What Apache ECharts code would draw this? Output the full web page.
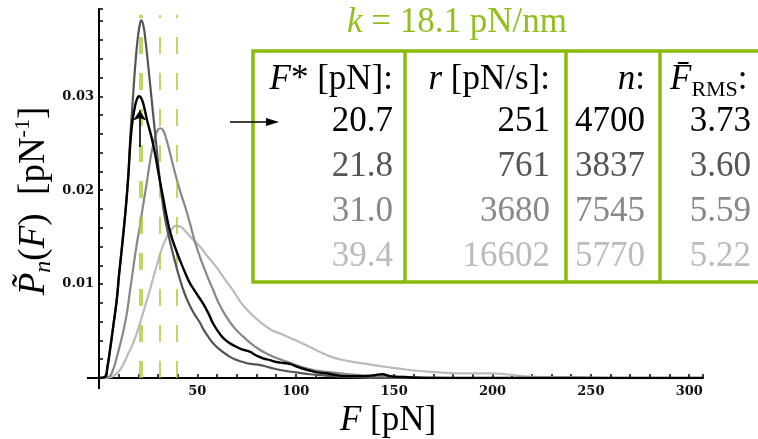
<!DOCTYPE html>
<html>
<head>
<meta charset="utf-8">
<script src="https://cdn.jsdelivr.net/npm/echarts@6/dist/echarts.min.js"></script>
<style>
html, body { margin: 0; padding: 0; background: #fff; }
#chart { width: 758px; height: 439px; }
</style>
</head>
<body>
<div id="chart"></div>
<script>
// 分布曲线 [F (pN), P]
var curveA = [[0,0],[3,0.0001],[4.3,0.0012],[5.6,0.003],[7.3,0.0056],[9,0.0083],[10.2,0.011],[11.5,0.0136],[12.8,0.0163],[14,0.019],[15,0.0218],[15.7,0.0243],[16.8,0.027],[18,0.0286],[19.3,0.0297],[20.5,0.030],[21.7,0.0297],[23,0.0288],[24.5,0.0274],[26.5,0.0258],[28.4,0.0240],[30.5,0.0215],[32.5,0.0193],[34.4,0.0172],[36.5,0.0153],[39.4,0.0135],[42,0.0121],[44,0.0111],[46.2,0.0101],[48,0.0095],[50.8,0.0086],[53,0.0079],[55.8,0.0068],[58,0.0058],[61.4,0.0047],[64.5,0.004],[68.2,0.0035],[72,0.0031],[76.6,0.0028],[80,0.0024],[83.4,0.0021],[87,0.0019],[90.2,0.0017],[94,0.0016],[97,0.0015],[102,0.0011],[107,0.0008],[111,0.0006],[115.5,0.0005],[121,0.0003],[127,0.0002],[135,0.0002],[140,0.0003],[144,0.0004],[148,0.0002],[155,0.0001],[165,0],[180,0],[220,0],[260,0],[307,0]];
var curveB = [[0,0],[3,0.0001],[4.3,0.0012],[5.6,0.003],[7.3,0.0056],[9,0.0083],[10.2,0.011],[11.5,0.0136],[12.8,0.0163],[14,0.0192],[15,0.022],[16,0.026],[17.4,0.0303],[18.5,0.0335],[19.7,0.0362],[20.7,0.0376],[21.5,0.0381],[22.5,0.0376],[23.5,0.0362],[25,0.0333],[26.7,0.0298],[28,0.0271],[29.3,0.0245],[30.5,0.0219],[31.8,0.0196],[33,0.0177],[34.5,0.016],[36,0.0146],[38.5,0.0125],[41,0.0106],[43.5,0.009],[46.2,0.0077],[48.5,0.0068],[51.3,0.0059],[53,0.0052],[55.5,0.0044],[58,0.0037],[61,0.0031],[64.8,0.0025],[69,0.002],[73.3,0.0017],[77,0.0015],[81.7,0.0014],[87,0.0011],[93.6,0.0008],[100,0.0006],[107,0.0004],[113,0.0003],[119,0.0002],[130,0.0001],[145,0],[180,0],[220,0],[260,0],[307,0]];
var curveC = [[0,0],[4.7,0.0001],[7,0.0008],[9,0.0022],[11.5,0.0042],[14,0.0067],[15.7,0.0092],[17.4,0.0117],[19,0.014],[20.8,0.0162],[22.5,0.0185],[24.2,0.0207],[25.5,0.0225],[26.7,0.024],[28.2,0.0254],[29.6,0.0263],[31,0.0266],[32.5,0.0264],[34,0.0256],[35.8,0.0242],[37.7,0.0226],[40,0.0208],[42,0.0194],[44,0.0181],[46.2,0.0165],[48.5,0.0147],[51.3,0.0129],[54,0.0114],[56.3,0.0102],[58,0.0094],[61,0.0079],[64.8,0.0065],[69,0.0053],[73.3,0.0044],[79,0.0034],[85.1,0.0026],[92,0.002],[98.6,0.0015],[104,0.0011],[110.5,0.0008],[118,0.0006],[127,0.0004],[140,0.0002],[160,0.0001],[180,0],[220,0],[260,0],[307,0]];
var curveD = [[0,0],[5,0.00005],[7.3,0.0002],[10,0.0007],[12,0.0013],[14,0.0022],[17.5,0.0038],[20.8,0.0058],[23.5,0.0077],[25.9,0.0094],[28,0.011],[30.1,0.0125],[32,0.0138],[34.4,0.015],[36.5,0.0157],[39,0.0162],[41.5,0.0161],[44,0.0156],[47,0.0149],[51.3,0.014],[55,0.013],[59.7,0.0118],[64,0.0105],[68.2,0.0093],[71.6,0.0082],[76,0.0071],[81.7,0.006],[87,0.0052],[93.6,0.0046],[99,0.0041],[105.4,0.0035],[112,0.0028],[118.9,0.0022],[127,0.0018],[135.9,0.0015],[145,0.0012],[152.8,0.001],[160,0.0008],[173,0.0006],[182,0.0005],[190,0.0005],[200,0.0005],[207,0.0004],[215,0.0002],[228,0.0001],[241,0.0001],[260,0],[280,0],[307,0]];

// 表格数据
var fStar = [20.7, 21.8, 31.0, 39.4];
var loadRate = [251, 761, 3680, 16602];
var nEvents = [4700, 3837, 7545, 5770];
var fRms = [3.73, 3.60, 5.59, 5.22];
var springK = 18.1;

// 刻度
var xLabelValues = [50, 100, 150, 200, 250, 300];
var yLabelValues = [0.01, 0.02, 0.03];
var arrowSpan = [0.0246, 0.0285];

var rowColors = ['#000', '#555', '#888', '#bbb'];
var green = '#8cba0a';
var dashGreen = '#a8cc36';
var serif = "'Liberation Serif', 'DejaVu Serif', serif";

var myChart = echarts.init(document.getElementById('chart'));

function txt(x, y, text, align, color, rich) {
	return {
		type: 'text', x: x, y: y, z: 10,
		style: {
			text: text, align: align, verticalAlign: 'middle',
			fill: color, fontFamily: serif, fontSize: 35, rich: rich || {}
		}
	};
}

var richBase = {
	i: { fontStyle: 'italic', fontFamily: serif, fontSize: 35, lineHeight: 42 },
	r: { fontFamily: serif, fontSize: 35, lineHeight: 42 },
	sub: { fontFamily: serif, fontSize: 22, lineHeight: 42, verticalAlign: 'bottom' }
};

// 表格
var tblGraphic = [
	{ type: 'rect', z: 9, shape: { x: 253, y: 51, width: 620, height: 231 },
	  style: { fill: 'none', stroke: green, lineWidth: 3.5 } }
];
[405, 566, 660].forEach(function (x) {
	tblGraphic.push({ type: 'line', z: 9, shape: { x1: x, y1: 51, x2: x, y2: 282 },
		style: { stroke: green, lineWidth: 3.5 } });
});
tblGraphic.push(txt(393, 80, '{i|F}{r|* [pN]:}', 'right', '#000', richBase));
tblGraphic.push(txt(550, 80, '{i|r}{r| [pN/s]:}', 'right', '#000', richBase));
tblGraphic.push(txt(645, 80, '{i|n}{r|:}', 'right', '#000', richBase));
tblGraphic.push(txt(670, 80, '{i|F\u0304}{sub|RMS}{r|:}', 'left', '#000', richBase));
for (var i = 0; i < fStar.length; i++) {
	var y = 122 + i * 45;
	tblGraphic.push(txt(393, y, fStar[i].toFixed(1), 'right', rowColors[i]));
	tblGraphic.push(txt(550, y, String(loadRate[i]), 'right', rowColors[i]));
	tblGraphic.push(txt(645, y, String(nEvents[i]), 'right', rowColors[i]));
	tblGraphic.push(txt(751, y, fRms[i].toFixed(2), 'right', rowColors[i]));
}
tblGraphic.push(txt(457, 23, '{i|k}{r| = ' + springK + ' pN/nm}', 'center', '#93bf1d', richBase));
// 表格箭头
tblGraphic.push({ type: 'line', z: 10, shape: { x1: 230, y1: 122, x2: 272, y2: 122 },
	style: { stroke: '#000', lineWidth: 1.5 } });
tblGraphic.push({ type: 'polygon', z: 10, shape: { points: [[279, 122], [266, 118], [266, 126]] },
	style: { fill: '#000' } });
// 坐标轴名称
tblGraphic.push({
	type: 'text', x: 34, y: 201, rotation: Math.PI / 2, z: 10,
	style: {
		text: '{i|P\u0303}{s|n}{r|(}{i|F}{r|)  [pN}{p|-1}{r|]}',
		align: 'center', verticalAlign: 'middle', fill: '#000',
		rich: {
			i: { fontStyle: 'italic', fontFamily: serif, fontSize: 37, lineHeight: 44 },
			r: { fontFamily: serif, fontSize: 37, lineHeight: 44 },
			s: { fontStyle: 'italic', fontFamily: serif, fontSize: 24, lineHeight: 44, verticalAlign: 'bottom' },
			p: { fontFamily: serif, fontSize: 22, lineHeight: 44, verticalAlign: 'top' }
		}
	}
});
tblGraphic.push({
	type: 'text', x: 388, y: 421, z: 10,
	style: {
		text: '{i|F}{r| [pN]}', align: 'center', verticalAlign: 'middle', fill: '#000',
		rich: {
			i: { fontStyle: 'italic', fontFamily: serif, fontSize: 35 },
			r: { fontFamily: serif, fontSize: 35 }
		}
	}
});
// 轴延伸
tblGraphic.push({ type: 'line', z: 5, shape: { x1: 87, y1: 378, x2: 99, y2: 378 }, style: { stroke: '#000', lineWidth: 2 } });
tblGraphic.push({ type: 'line', z: 5, shape: { x1: 99, y1: 378, x2: 99, y2: 389 }, style: { stroke: '#000', lineWidth: 2 } });

function isIn(list, v) {
	for (var k = 0; k < list.length; k++) {
		if (Math.abs(list[k] - v) < 1e-7) return true;
	}
	return false;
}

function curveSeries(data, color, width, z) {
	return {
		type: 'line', data: data, showSymbol: false, smooth: 0.5,
		lineStyle: { color: color, width: width }, z: z, silent: true
	};
}

var blackSeries = curveSeries(curveA, '#000', 2.4, 6);
blackSeries.markLine = {
	silent: true, symbol: ['none', 'arrow'], symbolSize: 10,
	label: { show: false },
	lineStyle: { color: '#000', width: 1.6, type: 'solid' },
	data: [[{ coord: [fStar[0], arrowSpan[0]] }, { coord: [fStar[0], arrowSpan[1]] }]]
};

var option = {
	animation: false,
	grid: { left: 99, right: 55, top: 9, bottom: 61 },
	xAxis: {
		type: 'value', min: 0, max: 307, interval: 10,
		axisLine: { lineStyle: { color: '#000', width: 2 } },
		axisTick: { inside: true, length: 4, lineStyle: { color: '#000', width: 1.5 } },
		splitLine: { show: false },
		axisLabel: {
			color: '#111', fontFamily: 'DejaVu Serif', fontWeight: 'bold', fontSize: 13, margin: 7,
			formatter: function (v) { return isIn(xLabelValues, v) ? String(v) : ''; }
		}
	},
	yAxis: {
		type: 'value', min: 0, max: 0.0393, interval: 0.002,
		axisLine: { show: true, lineStyle: { color: '#000', width: 2 } },
		axisTick: { show: true, inside: true, length: 4, lineStyle: { color: '#000', width: 1.5 } },
		splitLine: { show: false },
		axisLabel: {
			color: '#111', fontFamily: 'DejaVu Serif', fontWeight: 'bold', fontSize: 13, margin: 5,
			formatter: function (v) { return isIn(yLabelValues, v) ? v.toFixed(2) : ''; }
		}
	},
	graphic: tblGraphic,
	series: [
		{
			type: 'line', data: [], z: 2, silent: true,
			markLine: {
				silent: true, symbol: 'none', label: { show: false },
				lineStyle: { color: dashGreen, width: 1.5, type: [17, 19] },
				data: fStar.map(function (f) { return [{ coord: [f, 0] }, { coord: [f, 0.0387] }]; })
			}
		},
		curveSeries(curveD, '#bbb', 2.2, 3),
		curveSeries(curveC, '#888', 2.2, 4),
		curveSeries(curveB, '#555', 2.2, 5),
		blackSeries
	]
};
myChart.setOption(option);
</script>
</body>
</html>
